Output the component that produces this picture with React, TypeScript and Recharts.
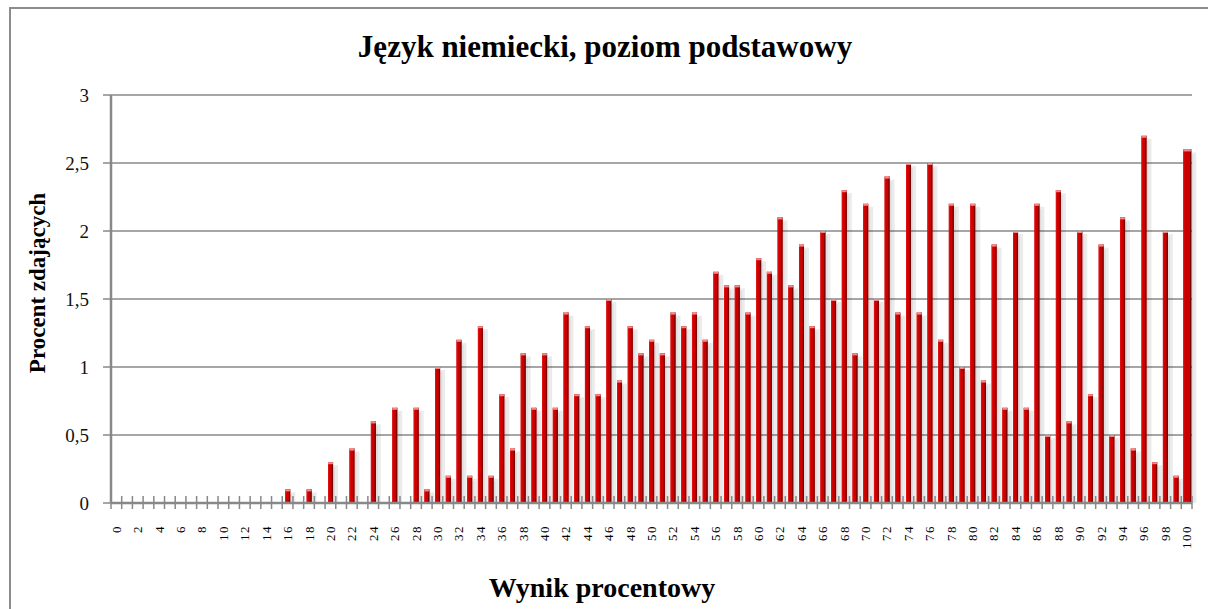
import { BarChart, Bar, XAxis, YAxis, CartesianGrid } from 'recharts'

// Wynik procentowy 0..100
const scores = Array.from({ length: 101 }, (_, i) => i)

// Procent zdających for each score
const percents = [
  0, 0, 0, 0, 0, 0, 0, 0, 0, 0,
  0, 0, 0, 0, 0, 0, 0.1, 0, 0.1, 0,
  0.3, 0, 0.4, 0, 0.6, 0, 0.7, 0, 0.7, 0.1,
  1.0, 0.2, 1.2, 0.2, 1.3, 0.2, 0.8, 0.4, 1.1, 0.7,
  1.1, 0.7, 1.4, 0.8, 1.3, 0.8, 1.5, 0.9, 1.3, 1.1,
  1.2, 1.1, 1.4, 1.3, 1.4, 1.2, 1.7, 1.6, 1.6, 1.4,
  1.8, 1.7, 2.1, 1.6, 1.9, 1.3, 2.0, 1.5, 2.3, 1.1,
  2.2, 1.5, 2.4, 1.4, 2.5, 1.4, 2.5, 1.2, 2.2, 1.0,
  2.2, 0.9, 1.9, 0.7, 2.0, 0.7, 2.2, 0.5, 2.3, 0.6,
  2.0, 0.8, 1.9, 0.5, 2.1, 0.4, 2.7, 0.3, 2.0, 0.2,
  2.6,
]

const yTicks = [0, 0.5, 1, 1.5, 2, 2.5, 3]

const data = scores.map((s, i) => ({ score: s, value: percents[i] }))

const SERIF = '"Liberation Serif", "DejaVu Serif", serif'
const PLOT_LEFT = 111
const PLOT_RIGHT = 1192
const BAND = (PLOT_RIGHT - PLOT_LEFT) / scores.length

const BarShape = (props: any) => {
  const { y, height, index } = props
  let { x, width } = props
  if (!height || height <= 0) return <g />
  // the last column is drawn wider in the original
  if (index === scores.length - 1) {
    x = x - 1
    width = width + 3
  }
  return (
    <g>
      {/* soft shadow */}
      <rect x={x + width} y={y + 3} width={5} height={height - 3} fill="#000" opacity={0.08} />
      <rect x={x + width} y={y + 5} width={2} height={height - 5} fill="#000" opacity={0.06} />
      <rect x={x} y={y} width={width} height={height} fill="#cc0000" />
      <rect x={x} y={y} width={1} height={height} fill="#e01010" />
      <rect x={x + width - 1.3} y={y} width={1.3} height={height} fill="#7a0000" />
      <rect x={x} y={y} width={width} height={2} fill="#f08a8a" />
    </g>
  )
}

const XTick = (props: any) => {
  const { x, y, index, payload } = props
  const left = x - BAND / 2
  const ly = y + 22
  return (
    <g>
      <line x1={left} x2={left} y1={y - 7} y2={y + 6} stroke="#888" strokeWidth={1.5} />
      {index === scores.length - 1 && (
        <line x1={x + BAND / 2} x2={x + BAND / 2} y1={y - 7} y2={y + 6} stroke="#888" strokeWidth={1.5} />
      )}
      {index % 2 === 0 && (
        <text
          x={x}
          y={ly}
          transform={`rotate(-90, ${x}, ${ly})`}
          textAnchor="end"
          dominantBaseline="central"
          fontFamily={SERIF}
          fontSize={13}
          letterSpacing={1.5}
          fill="#000"
        >
          {payload.value}
        </text>
      )}
    </g>
  )
}

export default function App() {
  return (
    <div style={{ position: 'absolute', left: 0, top: 0, width: 1208, height: 609, background: '#fff', overflow: 'hidden' }}>
      <div
        style={{
          position: 'absolute', left: 9, top: 7, width: 1240, height: 640,
          border: '2px solid #8c8c8c', boxSizing: 'border-box',
        }}
      />
      <div
        style={{
          position: 'absolute', left: 605, top: 47, transform: 'translate(-50%, -50%)',
          whiteSpace: 'nowrap', fontFamily: SERIF, fontWeight: 'bold', fontSize: 31, color: '#000',
        }}
      >
        Język niemiecki, poziom podstawowy
      </div>
      <div
        style={{
          position: 'absolute', left: 38, top: 283, transform: 'translate(-50%, -50%) rotate(-90deg)',
          whiteSpace: 'nowrap', fontFamily: SERIF, fontWeight: 'bold', fontSize: 23, color: '#000',
        }}
      >
        Procent zdających
      </div>
      <div
        style={{
          position: 'absolute', left: 602, top: 588, transform: 'translate(-50%, -50%)',
          whiteSpace: 'nowrap', fontFamily: SERIF, fontWeight: 'bold', fontSize: 28, color: '#000',
        }}
      >
        Wynik procentowy
      </div>
      <div style={{ position: 'absolute', left: 0, top: 0 }}>
        <BarChart
          width={1208}
          height={609}
          data={data}
          margin={{ top: 95, right: 1208 - PLOT_RIGHT, bottom: 66, left: PLOT_LEFT - 60 }}
          barSize={5}
        >
          <CartesianGrid vertical={false} stroke="#888" strokeWidth={1.5} />
          <XAxis
            dataKey="score"
            interval={0}
            height={40}
            tickSize={0}
            tickMargin={0}
            tickLine={false}
            axisLine={{ stroke: '#888', strokeWidth: 2.5 }}
            tick={<XTick />}
          />
          <YAxis
            domain={[0, 3]}
            ticks={yTicks}
            width={60}
            tickSize={8}
            tickMargin={14}
            tickLine={{ stroke: '#888', strokeWidth: 1.5 }}
            axisLine={{ stroke: '#888', strokeWidth: 2.5 }}
            tickFormatter={(v: number) => String(v).replace('.', ',')}
            tick={{ fontFamily: SERIF, fontSize: 19, fill: '#111' }}
          />
          <Bar dataKey="value" shape={<BarShape />} isAnimationActive={false} />
        </BarChart>
      </div>
    </div>
  )
}
